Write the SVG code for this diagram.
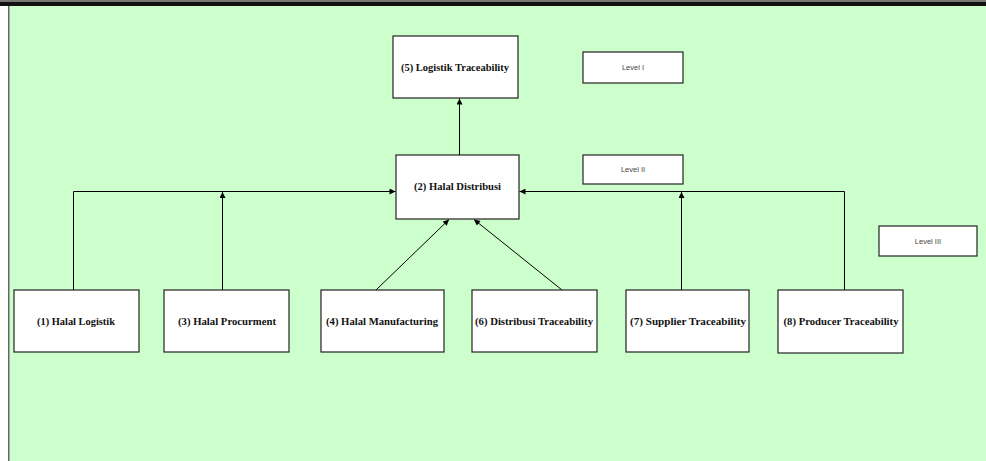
<svg xmlns="http://www.w3.org/2000/svg" width="986" height="461" viewBox="0 0 986 461">
  <defs>
    <marker id="arr" viewBox="0 0 10 10" refX="10" refY="5" markerWidth="7" markerHeight="6" markerUnits="userSpaceOnUse" orient="auto">
      <path d="M0,0 L10,5 L0,10 z" fill="#000"/>
    </marker>
    <style>
      .box { fill: #ffffff; stroke: #222; stroke-width: 1.2; }
      .lvl { fill: #ffffff; stroke: #222; stroke-width: 1.2; }
      .t { font-family: "Liberation Serif", "Times New Roman", serif; font-weight: bold; font-size: 11px; fill: #111; text-anchor: middle; }
      .lt { font-family: "Liberation Sans", Arial, sans-serif; font-size: 7.5px; fill: #444; text-anchor: middle; }
      .c { fill: none; stroke: #000; stroke-width: 1; }
    </style>
  </defs>
  <rect x="0" y="0" width="986" height="461" fill="#ffffff"/>
  <rect x="9" y="6" width="977" height="455" fill="#ccffcc"/>
  <rect x="0" y="0" width="986" height="2" fill="#777"/>
  <rect x="0" y="2" width="986" height="4" fill="#111"/>
  <rect x="8" y="6" width="1.5" height="455" fill="#666"/>

  <g id="connectors">
    <line class="c" x1="459.5" y1="155" x2="459.5" y2="98.5" marker-end="url(#arr)"/>
    <polyline class="c" points="73.5,290 73.5,191.5 395.5,191.5" marker-end="url(#arr)"/>
    <line class="c" x1="222.5" y1="290" x2="222.5" y2="192" marker-end="url(#arr)"/>
    <line class="c" x1="376" y1="290" x2="449" y2="219.5" marker-end="url(#arr)"/>
    <line class="c" x1="562" y1="290" x2="474" y2="219.5" marker-end="url(#arr)"/>
    <line class="c" x1="681.5" y1="290" x2="681.5" y2="192" marker-end="url(#arr)"/>
    <polyline class="c" points="844.5,290 844.5,191.5 519.5,191.5" marker-end="url(#arr)"/>
  </g>

  <g id="n5">
    <rect class="box" x="393" y="36" width="125" height="62"/>
    <text class="t" x="455" y="70.5" textLength="108" lengthAdjust="spacingAndGlyphs">(5) Logistik Traceability</text>
  </g>
  <g id="n2">
    <rect class="box" x="396" y="155" width="123" height="64"/>
    <text class="t" x="457.5" y="190" textLength="87" lengthAdjust="spacingAndGlyphs">(2) Halal Distribusi</text>
  </g>
  <g id="n1">
    <rect class="box" x="14" y="290" width="125" height="62"/>
    <text class="t" x="76" y="324.5" textLength="78" lengthAdjust="spacingAndGlyphs">(1) Halal Logistik</text>
  </g>
  <g id="n3">
    <rect class="box" x="164" y="290" width="125" height="62"/>
    <text class="t" x="227" y="324.5" textLength="98" lengthAdjust="spacingAndGlyphs">(3)  Halal Procurment</text>
  </g>
  <g id="n4">
    <rect class="box" x="321" y="290" width="123" height="62"/>
    <text class="t" x="382" y="324.5" textLength="112" lengthAdjust="spacingAndGlyphs">(4)  Halal Manufacturing</text>
  </g>
  <g id="n6">
    <rect class="box" x="472" y="290" width="125" height="62"/>
    <text class="t" x="534" y="324.5" textLength="118" lengthAdjust="spacingAndGlyphs">(6)  Distribusi Traceability</text>
  </g>
  <g id="n7">
    <rect class="box" x="626" y="290" width="123" height="62"/>
    <text class="t" x="688" y="324.5" textLength="116" lengthAdjust="spacingAndGlyphs">(7)  Supplier  Traceability</text>
  </g>
  <g id="n8">
    <rect class="box" x="778" y="290" width="125" height="63"/>
    <text class="t" x="841" y="324.5" textLength="115" lengthAdjust="spacingAndGlyphs">(8)  Producer Traceability</text>
  </g>

  <g id="level1">
    <rect class="lvl" x="583" y="52" width="100" height="31"/>
    <text class="lt" x="633" y="70">Level I</text>
  </g>
  <g id="level2">
    <rect class="lvl" x="583" y="155" width="100" height="29"/>
    <text class="lt" x="633" y="172">Level II</text>
  </g>
  <g id="level3">
    <rect class="lvl" x="879" y="226" width="98" height="30"/>
    <text class="lt" x="928" y="243.5">Level III</text>
  </g>
</svg>
